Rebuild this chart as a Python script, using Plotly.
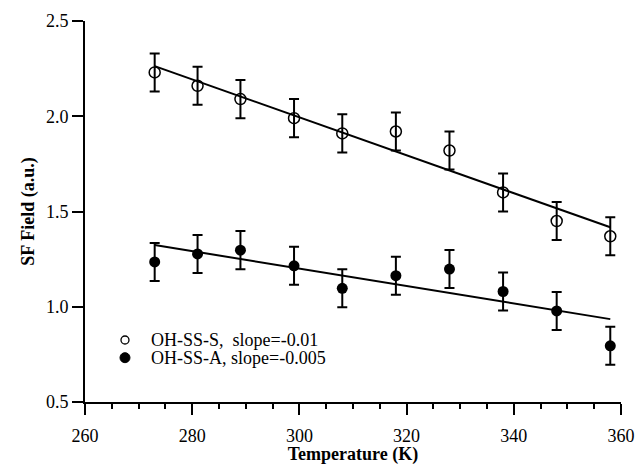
import plotly.graph_objects as go

temperature = [273, 281, 289, 299, 308, 318, 328, 338, 348, 358]
ss_s = [2.23, 2.16, 2.09, 1.99, 1.91, 1.92, 1.82, 1.60, 1.45, 1.37]
ss_a = [1.235, 1.277, 1.297, 1.215, 1.097, 1.163, 1.198, 1.08, 0.978, 0.795]
err_s = [0.1] * 10
err_a = [0.1] * 10
fit_x = [273, 358]
fit_s = [2.263, 1.417]
fit_a = [1.324, 0.935]
legend_labels = ["OH-SS-S,  slope=-0.01", "OH-SS-A, slope=-0.005"]

FONT = "Liberation Serif"
fig = go.Figure()

fig.add_trace(go.Scatter(x=fit_x, y=fit_s, mode="lines", line=dict(color="black", width=2),
                         showlegend=False, hoverinfo="skip"))
fig.add_trace(go.Scatter(x=fit_x, y=fit_a, mode="lines", line=dict(color="black", width=2),
                         showlegend=False, hoverinfo="skip"))
fig.add_trace(go.Scatter(
    x=temperature, y=ss_s, mode="markers", name=legend_labels[0], showlegend=False,
    marker=dict(symbol="circle-open", size=11, color="black", line=dict(width=1.5, color="black")),
    error_y=dict(type="data", array=err_s, visible=True, color="black", thickness=2, width=5)))
fig.add_trace(go.Scatter(
    x=temperature, y=ss_a, mode="markers", name=legend_labels[1], showlegend=False,
    marker=dict(symbol="circle", size=11, color="black"),
    error_y=dict(type="data", array=err_a, visible=True, color="black", thickness=2, width=5)))

# legend built from shapes + text (tight row spacing as in the original)
leg_sym_x = 0.0746
leg_txt_x = 0.119
leg_rows_y = [0.1627, 0.1163]
fig.add_shape(type="circle", xref="paper", yref="paper", xsizemode="pixel", ysizemode="pixel",
              xanchor=leg_sym_x, yanchor=leg_rows_y[0], x0=-4, x1=4, y0=-4, y1=4,
              line=dict(color="black", width=1.3), fillcolor="white")
fig.add_shape(type="circle", xref="paper", yref="paper", xsizemode="pixel", ysizemode="pixel",
              xanchor=leg_sym_x, yanchor=leg_rows_y[1], x0=-5, x1=5, y0=-5, y1=5,
              line=dict(color="black", width=1), fillcolor="black")
for lab, yy in zip(legend_labels, leg_rows_y):
    fig.add_annotation(text=lab, xref="paper", yref="paper", x=leg_txt_x, y=yy,
                       xanchor="left", yanchor="middle", showarrow=False,
                       font=dict(family=FONT, size=18, color="black"))

fig.update_layout(
    width=636, height=465,
    margin=dict(l=85, r=15, t=21, b=63),
    paper_bgcolor="white", plot_bgcolor="white",
    font=dict(family=FONT, size=18, color="black"),
    showlegend=False,
    xaxis=dict(range=[260, 360], dtick=20, tick0=260, showgrid=False, zeroline=False,
               automargin=False,
               showline=True, linecolor="black", linewidth=2, ticks="outside", ticklen=11,
               tickwidth=2, tickcolor="black", ticklabelstandoff=5,
               minor=dict(dtick=5, ticks="outside", ticklen=5, tickwidth=2, tickcolor="black", showgrid=False),
               title=dict(text="<b>Temperature (K)</b>", font=dict(family=FONT, size=18), standoff=13),
               tickfont=dict(family=FONT, size=18)),
    yaxis=dict(range=[0.5, 2.5], dtick=0.5, tick0=0.5, showgrid=False, zeroline=False,
               automargin=False,
               showline=True, linecolor="black", linewidth=2, ticks="outside", ticklen=11,
               tickwidth=2, tickcolor="black", tickformat=".1f",
               title=dict(text="<b>SF Field (a.u.)</b>", font=dict(family=FONT, size=18), standoff=7),
               tickfont=dict(family=FONT, size=18)),
)

fig.write_html("out.html")
